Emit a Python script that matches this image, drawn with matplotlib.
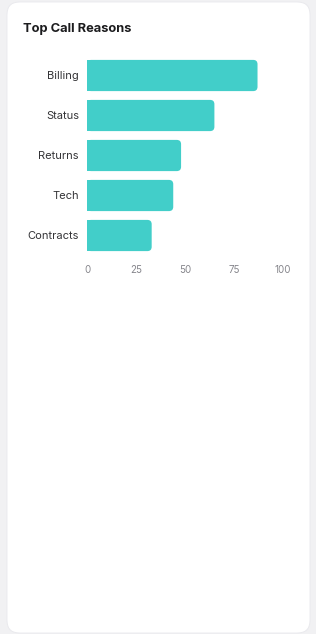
import matplotlib
matplotlib.use("Agg")
import matplotlib.pyplot as plt
from matplotlib.patches import FancyBboxPatch, Rectangle

categories = ["Billing", "Status", "Returns", "Tech", "Contracts"]
values = [87, 65, 48, 44, 33]
xticks = [0, 25, 50, 75, 100]
title = "Top Call Reasons"

W, H = 316, 634
plt.rcParams['font.family'] = ['Inter', 'DejaVu Sans']
fig = plt.figure(figsize=(W / 100, H / 100), dpi=100)
fig.patch.set_facecolor("#f1f1f3")

card = FancyBboxPatch((7 / W, 1 / H), 303 / W, 631 / H,
                      boxstyle="round,pad=0,rounding_size=0.04",
                      mutation_aspect=W / H,
                      transform=fig.transFigure, facecolor="white",
                      edgecolor="#e8e8ec", linewidth=0.6, zorder=-10)
fig.patches.append(card)

fig.text(23 / W, 1 - 29 / H, title, fontsize=9.3, fontweight="bold",
         color="#1c1c1e", va="center", ha="left")

ax = fig.add_axes([87 / W, 1 - 255.5 / H, 196 / W, 200 / H])
ax.set_zorder(5)
ax.set_facecolor("none")
color = "#42cec9"
ypos = list(range(len(categories)))
bars = ax.barh(ypos, values, height=0.78, color=color)
ax.set_xlim(0, 100)
ax.set_ylim(len(categories) - 0.5, -0.5)

rx = 2.2
ry = rx * (196 / 100) / (200 / 5)
for b in bars:
    x, y, w, h = b.get_x(), b.get_y(), b.get_width(), b.get_height()
    b.set_visible(False)
    ax.add_patch(FancyBboxPatch((x, y), w, h,
                                boxstyle=f"round,pad=0,rounding_size={rx}",
                                mutation_aspect=ry / rx,
                                facecolor=color, edgecolor="none"))
    ax.add_patch(Rectangle((x, y), w - rx * 1.5, h, facecolor=color,
                           edgecolor="none"))

ax.set_yticks(ypos)
ax.set_yticklabels(categories, fontsize=8, color="#333336")
ax.set_xticks(xticks)
ax.set_xticklabels([str(t) for t in xticks], fontsize=7, color="#86868c")
ax.tick_params(axis="both", length=0)
ax.tick_params(axis="y", pad=5.8)
ax.tick_params(axis="x", pad=6.5)
for s in ax.spines.values():
    s.set_visible(False)

fig.savefig("out.png", dpi=100)
